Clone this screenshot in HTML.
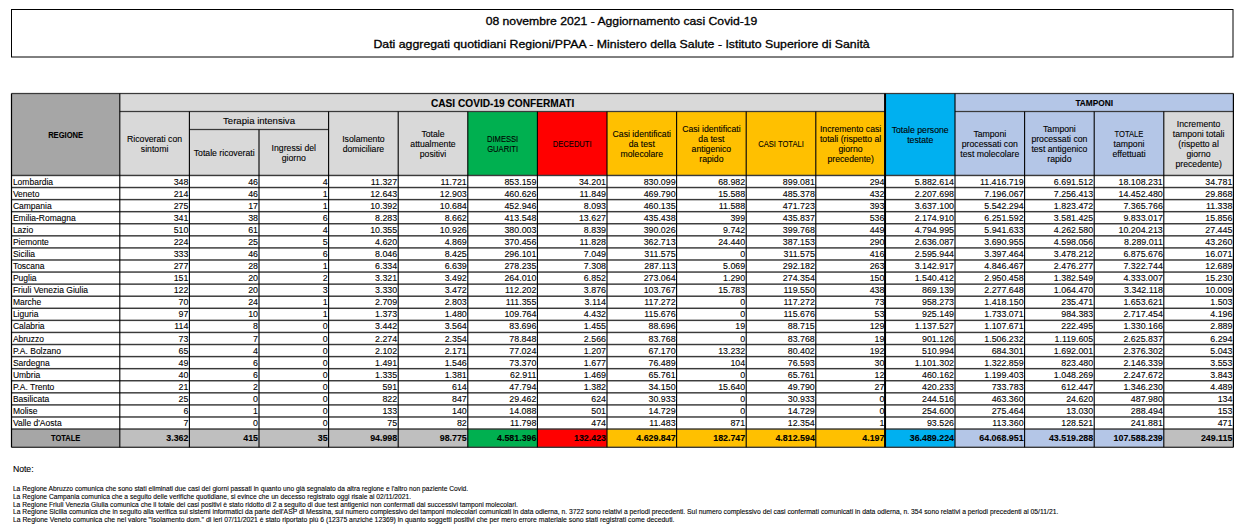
<!DOCTYPE html>
<html><head><meta charset="utf-8"><title>Covid-19 08/11/2021</title>
<style>
html,body{margin:0;padding:0;background:#fff;width:1247px;height:531px;overflow:hidden}
svg{display:block;font-family:"Liberation Sans",sans-serif}
text{stroke:#000;stroke-width:0.1px}
</style></head><body>
<svg width="1247" height="531" viewBox="0 0 1247 531">
<rect x="11.5" y="9.5" width="1221.50" height="47.5" fill="none" stroke="#000" stroke-width="1"/>
<rect x="11.50" y="93.50" width="108.30" height="81.80" fill="#a6a6a6"/>
<rect x="119.80" y="93.50" width="765.60" height="18.00" fill="#d9d9d9"/>
<rect x="119.80" y="111.50" width="69.60" height="63.80" fill="#d9d9d9"/>
<rect x="189.40" y="111.50" width="69.60" height="63.80" fill="#d9d9d9"/>
<rect x="259.00" y="111.50" width="69.60" height="63.80" fill="#d9d9d9"/>
<rect x="328.60" y="111.50" width="69.60" height="63.80" fill="#d9d9d9"/>
<rect x="398.20" y="111.50" width="69.60" height="63.80" fill="#d9d9d9"/>
<rect x="467.80" y="111.50" width="69.60" height="63.80" fill="#00b050"/>
<rect x="537.40" y="111.50" width="69.60" height="63.80" fill="#ff0000"/>
<rect x="607.00" y="111.50" width="69.60" height="63.80" fill="#ffc000"/>
<rect x="676.60" y="111.50" width="69.60" height="63.80" fill="#ffc000"/>
<rect x="746.20" y="111.50" width="69.60" height="63.80" fill="#ffc000"/>
<rect x="815.80" y="111.50" width="69.60" height="63.80" fill="#ffc000"/>
<rect x="885.40" y="93.50" width="69.60" height="81.80" fill="#00b0f0"/>
<rect x="955.00" y="93.50" width="278.40" height="18.00" fill="#b4c6e7"/>
<rect x="955.00" y="111.50" width="69.60" height="63.80" fill="#b4c6e7"/>
<rect x="1024.60" y="111.50" width="69.60" height="63.80" fill="#b4c6e7"/>
<rect x="1094.20" y="111.50" width="69.60" height="63.80" fill="#b4c6e7"/>
<rect x="1163.80" y="111.50" width="69.60" height="63.80" fill="#d9d9d9"/>
<rect x="11.50" y="428.90" width="108.30" height="18.40" fill="#a6a6a6"/>
<rect x="119.80" y="428.90" width="69.60" height="18.40" fill="#bfbfbf"/>
<rect x="189.40" y="428.90" width="69.60" height="18.40" fill="#bfbfbf"/>
<rect x="259.00" y="428.90" width="69.60" height="18.40" fill="#bfbfbf"/>
<rect x="328.60" y="428.90" width="69.60" height="18.40" fill="#bfbfbf"/>
<rect x="398.20" y="428.90" width="69.60" height="18.40" fill="#bfbfbf"/>
<rect x="467.80" y="428.90" width="69.60" height="18.40" fill="#00b050"/>
<rect x="537.40" y="428.90" width="69.60" height="18.40" fill="#ff0000"/>
<rect x="607.00" y="428.90" width="69.60" height="18.40" fill="#ffc000"/>
<rect x="676.60" y="428.90" width="69.60" height="18.40" fill="#ffc000"/>
<rect x="746.20" y="428.90" width="69.60" height="18.40" fill="#ffc000"/>
<rect x="815.80" y="428.90" width="69.60" height="18.40" fill="#ffc000"/>
<rect x="885.40" y="428.90" width="69.60" height="18.40" fill="#00b0f0"/>
<rect x="955.00" y="428.90" width="69.60" height="18.40" fill="#b4c6e7"/>
<rect x="1024.60" y="428.90" width="69.60" height="18.40" fill="#b4c6e7"/>
<rect x="1094.20" y="428.90" width="69.60" height="18.40" fill="#b4c6e7"/>
<rect x="1163.80" y="428.90" width="69.60" height="18.40" fill="#bfbfbf"/>
<rect x="11.50" y="92.88" width="1221.90" height="1.25" fill="#3a3a3a"/>
<rect x="119.80" y="110.88" width="765.60" height="1.25" fill="#3a3a3a"/>
<rect x="955.00" y="110.88" width="278.40" height="1.25" fill="#3a3a3a"/>
<rect x="189.40" y="128.88" width="139.20" height="1.25" fill="#3a3a3a"/>
<rect x="11.50" y="174.73" width="1221.90" height="1.45" fill="#3a3a3a"/>
<rect x="11.50" y="186.80" width="1221.90" height="1.45" fill="#3a3a3a"/>
<rect x="11.50" y="198.88" width="1221.90" height="1.45" fill="#3a3a3a"/>
<rect x="11.50" y="210.95" width="1221.90" height="1.45" fill="#3a3a3a"/>
<rect x="11.50" y="223.03" width="1221.90" height="1.45" fill="#3a3a3a"/>
<rect x="11.50" y="235.11" width="1221.90" height="1.45" fill="#3a3a3a"/>
<rect x="11.50" y="247.18" width="1221.90" height="1.45" fill="#3a3a3a"/>
<rect x="11.50" y="259.26" width="1221.90" height="1.45" fill="#3a3a3a"/>
<rect x="11.50" y="271.33" width="1221.90" height="1.45" fill="#3a3a3a"/>
<rect x="11.50" y="283.41" width="1221.90" height="1.45" fill="#3a3a3a"/>
<rect x="11.50" y="295.49" width="1221.90" height="1.45" fill="#3a3a3a"/>
<rect x="11.50" y="307.56" width="1221.90" height="1.45" fill="#3a3a3a"/>
<rect x="11.50" y="319.64" width="1221.90" height="1.45" fill="#3a3a3a"/>
<rect x="11.50" y="331.72" width="1221.90" height="1.45" fill="#3a3a3a"/>
<rect x="11.50" y="343.79" width="1221.90" height="1.45" fill="#3a3a3a"/>
<rect x="11.50" y="355.87" width="1221.90" height="1.45" fill="#3a3a3a"/>
<rect x="11.50" y="367.94" width="1221.90" height="1.45" fill="#3a3a3a"/>
<rect x="11.50" y="380.02" width="1221.90" height="1.45" fill="#3a3a3a"/>
<rect x="11.50" y="392.10" width="1221.90" height="1.45" fill="#3a3a3a"/>
<rect x="11.50" y="404.17" width="1221.90" height="1.45" fill="#3a3a3a"/>
<rect x="11.50" y="416.25" width="1221.90" height="1.45" fill="#3a3a3a"/>
<rect x="11.50" y="428.32" width="1221.90" height="1.45" fill="#3a3a3a"/>
<rect x="11.50" y="446.60" width="1221.90" height="1.40" fill="#3a3a3a"/>
<rect x="10.90" y="93.50" width="1.20" height="353.80" fill="#000"/>
<rect x="1232.80" y="93.50" width="1.20" height="353.80" fill="#000"/>
<rect x="119.25" y="93.50" width="1.10" height="353.80" fill="#000"/>
<rect x="188.85" y="111.50" width="1.10" height="335.80" fill="#000"/>
<rect x="258.45" y="129.50" width="1.10" height="317.80" fill="#000"/>
<rect x="328.05" y="111.50" width="1.10" height="335.80" fill="#000"/>
<rect x="397.65" y="111.50" width="1.10" height="335.80" fill="#000"/>
<rect x="467.25" y="111.50" width="1.10" height="335.80" fill="#000"/>
<rect x="536.85" y="111.50" width="1.10" height="335.80" fill="#000"/>
<rect x="606.45" y="111.50" width="1.10" height="335.80" fill="#000"/>
<rect x="676.05" y="111.50" width="1.10" height="335.80" fill="#000"/>
<rect x="745.65" y="111.50" width="1.10" height="335.80" fill="#000"/>
<rect x="815.25" y="111.50" width="1.10" height="335.80" fill="#000"/>
<rect x="884.05" y="93.50" width="2.00" height="353.80" fill="#000"/>
<rect x="954.45" y="93.50" width="1.10" height="353.80" fill="#000"/>
<rect x="1024.05" y="111.50" width="1.10" height="335.80" fill="#000"/>
<rect x="1093.65" y="111.50" width="1.10" height="335.80" fill="#000"/>
<rect x="1163.25" y="111.50" width="1.10" height="335.80" fill="#000"/>
<text x="621.50" y="25.00" text-anchor="middle" style="font-size:11.00px;stroke-width:0.3px;" fill="#000" textLength="271.70" lengthAdjust="spacingAndGlyphs">08 novembre 2021 - Aggiornamento casi Covid-19</text>
<text x="621.60" y="48.40" text-anchor="middle" style="font-size:11.00px;stroke-width:0.3px;" fill="#000" textLength="496.20" lengthAdjust="spacingAndGlyphs">Dati aggregati quotidiani Regioni/PPAA - Ministero della Salute - Istituto Superiore di Sanità</text>
<text x="65.65" y="138.00" text-anchor="middle" style="font-size:8.80px;font-weight:bold;" fill="#000" textLength="35.00" lengthAdjust="spacingAndGlyphs">REGIONE</text>
<text x="502.60" y="107.00" text-anchor="middle" style="font-size:10.30px;font-weight:bold;" fill="#000" textLength="143.20" lengthAdjust="spacingAndGlyphs">CASI COVID-19 CONFERMATI</text>
<text x="154.60" y="142.00" text-anchor="middle" style="font-size:8.70px;" fill="#000">Ricoverati con</text>
<text x="154.60" y="152.00" text-anchor="middle" style="font-size:8.70px;" fill="#000">sintomi</text>
<text x="259.00" y="124.00" text-anchor="middle" style="font-size:9.60px;" fill="#000">Terapia intensiva</text>
<text x="224.20" y="156.00" text-anchor="middle" style="font-size:8.70px;" fill="#000">Totale ricoverati</text>
<text x="293.80" y="151.00" text-anchor="middle" style="font-size:8.70px;" fill="#000">Ingressi del</text>
<text x="293.80" y="161.00" text-anchor="middle" style="font-size:8.70px;" fill="#000">giorno</text>
<text x="363.40" y="142.00" text-anchor="middle" style="font-size:8.70px;" fill="#000">Isolamento</text>
<text x="363.40" y="152.00" text-anchor="middle" style="font-size:8.70px;" fill="#000">domiciliare</text>
<text x="433.00" y="137.00" text-anchor="middle" style="font-size:8.70px;" fill="#000">Totale</text>
<text x="433.00" y="147.00" text-anchor="middle" style="font-size:8.70px;" fill="#000">attualmente</text>
<text x="433.00" y="157.00" text-anchor="middle" style="font-size:8.70px;" fill="#000">positivi</text>
<text x="502.60" y="142.00" text-anchor="middle" style="font-size:8.70px;" fill="#000" textLength="31.25" lengthAdjust="spacingAndGlyphs">DIMESSI</text>
<text x="502.60" y="152.00" text-anchor="middle" style="font-size:8.70px;" fill="#000" textLength="30.82" lengthAdjust="spacingAndGlyphs">GUARITI</text>
<text x="572.20" y="147.00" text-anchor="middle" style="font-size:8.70px;" fill="#000" textLength="38.85" lengthAdjust="spacingAndGlyphs">DECEDUTI</text>
<text x="641.80" y="137.00" text-anchor="middle" style="font-size:8.70px;" fill="#000">Casi identificati</text>
<text x="641.80" y="147.00" text-anchor="middle" style="font-size:8.70px;" fill="#000">da test</text>
<text x="641.80" y="157.00" text-anchor="middle" style="font-size:8.70px;" fill="#000">molecolare</text>
<text x="711.40" y="132.00" text-anchor="middle" style="font-size:8.70px;" fill="#000">Casi identificati</text>
<text x="711.40" y="142.00" text-anchor="middle" style="font-size:8.70px;" fill="#000">da test</text>
<text x="711.40" y="152.00" text-anchor="middle" style="font-size:8.70px;" fill="#000">antigenico</text>
<text x="711.40" y="162.00" text-anchor="middle" style="font-size:8.70px;" fill="#000">rapido</text>
<text x="781.00" y="147.00" text-anchor="middle" style="font-size:8.70px;" fill="#000" textLength="45.61" lengthAdjust="spacingAndGlyphs">CASI TOTALI</text>
<text x="850.60" y="132.00" text-anchor="middle" style="font-size:8.70px;" fill="#000">Incremento casi</text>
<text x="850.60" y="142.00" text-anchor="middle" style="font-size:8.70px;" fill="#000">totali (rispetto al</text>
<text x="850.60" y="152.00" text-anchor="middle" style="font-size:8.70px;" fill="#000">giorno</text>
<text x="850.60" y="162.00" text-anchor="middle" style="font-size:8.70px;" fill="#000">precedente)</text>
<text x="920.20" y="133.00" text-anchor="middle" style="font-size:8.70px;" fill="#000">Totale persone</text>
<text x="920.20" y="143.00" text-anchor="middle" style="font-size:8.70px;" fill="#000">testate</text>
<text x="1094.20" y="106.00" text-anchor="middle" style="font-size:8.30px;font-weight:bold;" fill="#000">TAMPONI</text>
<text x="989.80" y="137.00" text-anchor="middle" style="font-size:8.70px;" fill="#000">Tamponi</text>
<text x="989.80" y="147.00" text-anchor="middle" style="font-size:8.70px;" fill="#000">processati con</text>
<text x="989.80" y="157.00" text-anchor="middle" style="font-size:8.70px;" fill="#000">test molecolare</text>
<text x="1059.40" y="132.00" text-anchor="middle" style="font-size:8.70px;" fill="#000">Tamponi</text>
<text x="1059.40" y="142.00" text-anchor="middle" style="font-size:8.70px;" fill="#000">processati con</text>
<text x="1059.40" y="152.00" text-anchor="middle" style="font-size:8.70px;" fill="#000">test antigenico</text>
<text x="1059.40" y="162.00" text-anchor="middle" style="font-size:8.70px;" fill="#000">rapido</text>
<text x="1129.00" y="137.00" text-anchor="middle" style="font-size:8.70px;" fill="#000" textLength="28.86" lengthAdjust="spacingAndGlyphs">TOTALE</text>
<text x="1129.00" y="147.00" text-anchor="middle" style="font-size:8.70px;" fill="#000">tamponi</text>
<text x="1129.00" y="157.00" text-anchor="middle" style="font-size:8.70px;" fill="#000">effettuati</text>
<text x="1198.60" y="127.00" text-anchor="middle" style="font-size:8.70px;" fill="#000">Incremento</text>
<text x="1198.60" y="137.00" text-anchor="middle" style="font-size:8.70px;" fill="#000">tamponi totali</text>
<text x="1198.60" y="147.00" text-anchor="middle" style="font-size:8.70px;" fill="#000">(rispetto al</text>
<text x="1198.60" y="157.00" text-anchor="middle" style="font-size:8.70px;" fill="#000">giorno</text>
<text x="1198.60" y="167.00" text-anchor="middle" style="font-size:8.70px;" fill="#000">precedente)</text>
<text x="12.90" y="185.00" text-anchor="start" style="font-size:8.50px;" fill="#000">Lombardia</text>
<text x="188.40" y="185.00" text-anchor="end" style="font-size:8.85px;" fill="#000">348</text>
<text x="258.00" y="185.00" text-anchor="end" style="font-size:8.85px;" fill="#000">46</text>
<text x="327.60" y="185.00" text-anchor="end" style="font-size:8.85px;" fill="#000">4</text>
<text x="397.20" y="185.00" text-anchor="end" style="font-size:8.85px;" fill="#000">11.327</text>
<text x="466.80" y="185.00" text-anchor="end" style="font-size:8.85px;" fill="#000">11.721</text>
<text x="536.40" y="185.00" text-anchor="end" style="font-size:8.85px;" fill="#000">853.159</text>
<text x="606.00" y="185.00" text-anchor="end" style="font-size:8.85px;" fill="#000">34.201</text>
<text x="675.60" y="185.00" text-anchor="end" style="font-size:8.85px;" fill="#000">830.099</text>
<text x="745.20" y="185.00" text-anchor="end" style="font-size:8.85px;" fill="#000">68.982</text>
<text x="814.80" y="185.00" text-anchor="end" style="font-size:8.85px;" fill="#000">899.081</text>
<text x="884.40" y="185.00" text-anchor="end" style="font-size:8.85px;" fill="#000">294</text>
<text x="954.00" y="185.00" text-anchor="end" style="font-size:8.85px;" fill="#000">5.882.614</text>
<text x="1023.60" y="185.00" text-anchor="end" style="font-size:8.85px;" fill="#000">11.416.719</text>
<text x="1093.20" y="185.00" text-anchor="end" style="font-size:8.85px;" fill="#000">6.691.512</text>
<text x="1162.80" y="185.00" text-anchor="end" style="font-size:8.85px;" fill="#000">18.108.231</text>
<text x="1232.40" y="185.00" text-anchor="end" style="font-size:8.85px;" fill="#000">34.781</text>
<text x="12.90" y="197.00" text-anchor="start" style="font-size:8.50px;" fill="#000">Veneto</text>
<text x="188.40" y="197.00" text-anchor="end" style="font-size:8.85px;" fill="#000">214</text>
<text x="258.00" y="197.00" text-anchor="end" style="font-size:8.85px;" fill="#000">46</text>
<text x="327.60" y="197.00" text-anchor="end" style="font-size:8.85px;" fill="#000">1</text>
<text x="397.20" y="197.00" text-anchor="end" style="font-size:8.85px;" fill="#000">12.643</text>
<text x="466.80" y="197.00" text-anchor="end" style="font-size:8.85px;" fill="#000">12.903</text>
<text x="536.40" y="197.00" text-anchor="end" style="font-size:8.85px;" fill="#000">460.626</text>
<text x="606.00" y="197.00" text-anchor="end" style="font-size:8.85px;" fill="#000">11.849</text>
<text x="675.60" y="197.00" text-anchor="end" style="font-size:8.85px;" fill="#000">469.790</text>
<text x="745.20" y="197.00" text-anchor="end" style="font-size:8.85px;" fill="#000">15.588</text>
<text x="814.80" y="197.00" text-anchor="end" style="font-size:8.85px;" fill="#000">485.378</text>
<text x="884.40" y="197.00" text-anchor="end" style="font-size:8.85px;" fill="#000">432</text>
<text x="954.00" y="197.00" text-anchor="end" style="font-size:8.85px;" fill="#000">2.207.698</text>
<text x="1023.60" y="197.00" text-anchor="end" style="font-size:8.85px;" fill="#000">7.196.067</text>
<text x="1093.20" y="197.00" text-anchor="end" style="font-size:8.85px;" fill="#000">7.256.413</text>
<text x="1162.80" y="197.00" text-anchor="end" style="font-size:8.85px;" fill="#000">14.452.480</text>
<text x="1232.40" y="197.00" text-anchor="end" style="font-size:8.85px;" fill="#000">29.868</text>
<text x="12.90" y="209.00" text-anchor="start" style="font-size:8.50px;" fill="#000">Campania</text>
<text x="188.40" y="209.00" text-anchor="end" style="font-size:8.85px;" fill="#000">275</text>
<text x="258.00" y="209.00" text-anchor="end" style="font-size:8.85px;" fill="#000">17</text>
<text x="327.60" y="209.00" text-anchor="end" style="font-size:8.85px;" fill="#000">1</text>
<text x="397.20" y="209.00" text-anchor="end" style="font-size:8.85px;" fill="#000">10.392</text>
<text x="466.80" y="209.00" text-anchor="end" style="font-size:8.85px;" fill="#000">10.684</text>
<text x="536.40" y="209.00" text-anchor="end" style="font-size:8.85px;" fill="#000">452.946</text>
<text x="606.00" y="209.00" text-anchor="end" style="font-size:8.85px;" fill="#000">8.093</text>
<text x="675.60" y="209.00" text-anchor="end" style="font-size:8.85px;" fill="#000">460.135</text>
<text x="745.20" y="209.00" text-anchor="end" style="font-size:8.85px;" fill="#000">11.588</text>
<text x="814.80" y="209.00" text-anchor="end" style="font-size:8.85px;" fill="#000">471.723</text>
<text x="884.40" y="209.00" text-anchor="end" style="font-size:8.85px;" fill="#000">393</text>
<text x="954.00" y="209.00" text-anchor="end" style="font-size:8.85px;" fill="#000">3.637.100</text>
<text x="1023.60" y="209.00" text-anchor="end" style="font-size:8.85px;" fill="#000">5.542.294</text>
<text x="1093.20" y="209.00" text-anchor="end" style="font-size:8.85px;" fill="#000">1.823.472</text>
<text x="1162.80" y="209.00" text-anchor="end" style="font-size:8.85px;" fill="#000">7.365.766</text>
<text x="1232.40" y="209.00" text-anchor="end" style="font-size:8.85px;" fill="#000">11.338</text>
<text x="12.90" y="221.00" text-anchor="start" style="font-size:8.50px;" fill="#000">Emilia-Romagna</text>
<text x="188.40" y="221.00" text-anchor="end" style="font-size:8.85px;" fill="#000">341</text>
<text x="258.00" y="221.00" text-anchor="end" style="font-size:8.85px;" fill="#000">38</text>
<text x="327.60" y="221.00" text-anchor="end" style="font-size:8.85px;" fill="#000">6</text>
<text x="397.20" y="221.00" text-anchor="end" style="font-size:8.85px;" fill="#000">8.283</text>
<text x="466.80" y="221.00" text-anchor="end" style="font-size:8.85px;" fill="#000">8.662</text>
<text x="536.40" y="221.00" text-anchor="end" style="font-size:8.85px;" fill="#000">413.548</text>
<text x="606.00" y="221.00" text-anchor="end" style="font-size:8.85px;" fill="#000">13.627</text>
<text x="675.60" y="221.00" text-anchor="end" style="font-size:8.85px;" fill="#000">435.438</text>
<text x="745.20" y="221.00" text-anchor="end" style="font-size:8.85px;" fill="#000">399</text>
<text x="814.80" y="221.00" text-anchor="end" style="font-size:8.85px;" fill="#000">435.837</text>
<text x="884.40" y="221.00" text-anchor="end" style="font-size:8.85px;" fill="#000">536</text>
<text x="954.00" y="221.00" text-anchor="end" style="font-size:8.85px;" fill="#000">2.174.910</text>
<text x="1023.60" y="221.00" text-anchor="end" style="font-size:8.85px;" fill="#000">6.251.592</text>
<text x="1093.20" y="221.00" text-anchor="end" style="font-size:8.85px;" fill="#000">3.581.425</text>
<text x="1162.80" y="221.00" text-anchor="end" style="font-size:8.85px;" fill="#000">9.833.017</text>
<text x="1232.40" y="221.00" text-anchor="end" style="font-size:8.85px;" fill="#000">15.856</text>
<text x="12.90" y="233.00" text-anchor="start" style="font-size:8.50px;" fill="#000">Lazio</text>
<text x="188.40" y="233.00" text-anchor="end" style="font-size:8.85px;" fill="#000">510</text>
<text x="258.00" y="233.00" text-anchor="end" style="font-size:8.85px;" fill="#000">61</text>
<text x="327.60" y="233.00" text-anchor="end" style="font-size:8.85px;" fill="#000">4</text>
<text x="397.20" y="233.00" text-anchor="end" style="font-size:8.85px;" fill="#000">10.355</text>
<text x="466.80" y="233.00" text-anchor="end" style="font-size:8.85px;" fill="#000">10.926</text>
<text x="536.40" y="233.00" text-anchor="end" style="font-size:8.85px;" fill="#000">380.003</text>
<text x="606.00" y="233.00" text-anchor="end" style="font-size:8.85px;" fill="#000">8.839</text>
<text x="675.60" y="233.00" text-anchor="end" style="font-size:8.85px;" fill="#000">390.026</text>
<text x="745.20" y="233.00" text-anchor="end" style="font-size:8.85px;" fill="#000">9.742</text>
<text x="814.80" y="233.00" text-anchor="end" style="font-size:8.85px;" fill="#000">399.768</text>
<text x="884.40" y="233.00" text-anchor="end" style="font-size:8.85px;" fill="#000">449</text>
<text x="954.00" y="233.00" text-anchor="end" style="font-size:8.85px;" fill="#000">4.794.995</text>
<text x="1023.60" y="233.00" text-anchor="end" style="font-size:8.85px;" fill="#000">5.941.633</text>
<text x="1093.20" y="233.00" text-anchor="end" style="font-size:8.85px;" fill="#000">4.262.580</text>
<text x="1162.80" y="233.00" text-anchor="end" style="font-size:8.85px;" fill="#000">10.204.213</text>
<text x="1232.40" y="233.00" text-anchor="end" style="font-size:8.85px;" fill="#000">27.445</text>
<text x="12.90" y="245.00" text-anchor="start" style="font-size:8.50px;" fill="#000">Piemonte</text>
<text x="188.40" y="245.00" text-anchor="end" style="font-size:8.85px;" fill="#000">224</text>
<text x="258.00" y="245.00" text-anchor="end" style="font-size:8.85px;" fill="#000">25</text>
<text x="327.60" y="245.00" text-anchor="end" style="font-size:8.85px;" fill="#000">5</text>
<text x="397.20" y="245.00" text-anchor="end" style="font-size:8.85px;" fill="#000">4.620</text>
<text x="466.80" y="245.00" text-anchor="end" style="font-size:8.85px;" fill="#000">4.869</text>
<text x="536.40" y="245.00" text-anchor="end" style="font-size:8.85px;" fill="#000">370.456</text>
<text x="606.00" y="245.00" text-anchor="end" style="font-size:8.85px;" fill="#000">11.828</text>
<text x="675.60" y="245.00" text-anchor="end" style="font-size:8.85px;" fill="#000">362.713</text>
<text x="745.20" y="245.00" text-anchor="end" style="font-size:8.85px;" fill="#000">24.440</text>
<text x="814.80" y="245.00" text-anchor="end" style="font-size:8.85px;" fill="#000">387.153</text>
<text x="884.40" y="245.00" text-anchor="end" style="font-size:8.85px;" fill="#000">290</text>
<text x="954.00" y="245.00" text-anchor="end" style="font-size:8.85px;" fill="#000">2.636.087</text>
<text x="1023.60" y="245.00" text-anchor="end" style="font-size:8.85px;" fill="#000">3.690.955</text>
<text x="1093.20" y="245.00" text-anchor="end" style="font-size:8.85px;" fill="#000">4.598.056</text>
<text x="1162.80" y="245.00" text-anchor="end" style="font-size:8.85px;" fill="#000">8.289.011</text>
<text x="1232.40" y="245.00" text-anchor="end" style="font-size:8.85px;" fill="#000">43.260</text>
<text x="12.90" y="257.00" text-anchor="start" style="font-size:8.50px;" fill="#000">Sicilia</text>
<text x="188.40" y="257.00" text-anchor="end" style="font-size:8.85px;" fill="#000">333</text>
<text x="258.00" y="257.00" text-anchor="end" style="font-size:8.85px;" fill="#000">46</text>
<text x="327.60" y="257.00" text-anchor="end" style="font-size:8.85px;" fill="#000">6</text>
<text x="397.20" y="257.00" text-anchor="end" style="font-size:8.85px;" fill="#000">8.046</text>
<text x="466.80" y="257.00" text-anchor="end" style="font-size:8.85px;" fill="#000">8.425</text>
<text x="536.40" y="257.00" text-anchor="end" style="font-size:8.85px;" fill="#000">296.101</text>
<text x="606.00" y="257.00" text-anchor="end" style="font-size:8.85px;" fill="#000">7.049</text>
<text x="675.60" y="257.00" text-anchor="end" style="font-size:8.85px;" fill="#000">311.575</text>
<text x="745.20" y="257.00" text-anchor="end" style="font-size:8.85px;" fill="#000">0</text>
<text x="814.80" y="257.00" text-anchor="end" style="font-size:8.85px;" fill="#000">311.575</text>
<text x="884.40" y="257.00" text-anchor="end" style="font-size:8.85px;" fill="#000">416</text>
<text x="954.00" y="257.00" text-anchor="end" style="font-size:8.85px;" fill="#000">2.595.944</text>
<text x="1023.60" y="257.00" text-anchor="end" style="font-size:8.85px;" fill="#000">3.397.464</text>
<text x="1093.20" y="257.00" text-anchor="end" style="font-size:8.85px;" fill="#000">3.478.212</text>
<text x="1162.80" y="257.00" text-anchor="end" style="font-size:8.85px;" fill="#000">6.875.676</text>
<text x="1232.40" y="257.00" text-anchor="end" style="font-size:8.85px;" fill="#000">16.071</text>
<text x="12.90" y="269.00" text-anchor="start" style="font-size:8.50px;" fill="#000">Toscana</text>
<text x="188.40" y="269.00" text-anchor="end" style="font-size:8.85px;" fill="#000">277</text>
<text x="258.00" y="269.00" text-anchor="end" style="font-size:8.85px;" fill="#000">28</text>
<text x="327.60" y="269.00" text-anchor="end" style="font-size:8.85px;" fill="#000">1</text>
<text x="397.20" y="269.00" text-anchor="end" style="font-size:8.85px;" fill="#000">6.334</text>
<text x="466.80" y="269.00" text-anchor="end" style="font-size:8.85px;" fill="#000">6.639</text>
<text x="536.40" y="269.00" text-anchor="end" style="font-size:8.85px;" fill="#000">278.235</text>
<text x="606.00" y="269.00" text-anchor="end" style="font-size:8.85px;" fill="#000">7.308</text>
<text x="675.60" y="269.00" text-anchor="end" style="font-size:8.85px;" fill="#000">287.113</text>
<text x="745.20" y="269.00" text-anchor="end" style="font-size:8.85px;" fill="#000">5.069</text>
<text x="814.80" y="269.00" text-anchor="end" style="font-size:8.85px;" fill="#000">292.182</text>
<text x="884.40" y="269.00" text-anchor="end" style="font-size:8.85px;" fill="#000">263</text>
<text x="954.00" y="269.00" text-anchor="end" style="font-size:8.85px;" fill="#000">3.142.917</text>
<text x="1023.60" y="269.00" text-anchor="end" style="font-size:8.85px;" fill="#000">4.846.467</text>
<text x="1093.20" y="269.00" text-anchor="end" style="font-size:8.85px;" fill="#000">2.476.277</text>
<text x="1162.80" y="269.00" text-anchor="end" style="font-size:8.85px;" fill="#000">7.322.744</text>
<text x="1232.40" y="269.00" text-anchor="end" style="font-size:8.85px;" fill="#000">12.689</text>
<text x="12.90" y="281.00" text-anchor="start" style="font-size:8.50px;" fill="#000">Puglia</text>
<text x="188.40" y="281.00" text-anchor="end" style="font-size:8.85px;" fill="#000">151</text>
<text x="258.00" y="281.00" text-anchor="end" style="font-size:8.85px;" fill="#000">20</text>
<text x="327.60" y="281.00" text-anchor="end" style="font-size:8.85px;" fill="#000">2</text>
<text x="397.20" y="281.00" text-anchor="end" style="font-size:8.85px;" fill="#000">3.321</text>
<text x="466.80" y="281.00" text-anchor="end" style="font-size:8.85px;" fill="#000">3.492</text>
<text x="536.40" y="281.00" text-anchor="end" style="font-size:8.85px;" fill="#000">264.010</text>
<text x="606.00" y="281.00" text-anchor="end" style="font-size:8.85px;" fill="#000">6.852</text>
<text x="675.60" y="281.00" text-anchor="end" style="font-size:8.85px;" fill="#000">273.064</text>
<text x="745.20" y="281.00" text-anchor="end" style="font-size:8.85px;" fill="#000">1.290</text>
<text x="814.80" y="281.00" text-anchor="end" style="font-size:8.85px;" fill="#000">274.354</text>
<text x="884.40" y="281.00" text-anchor="end" style="font-size:8.85px;" fill="#000">150</text>
<text x="954.00" y="281.00" text-anchor="end" style="font-size:8.85px;" fill="#000">1.540.412</text>
<text x="1023.60" y="281.00" text-anchor="end" style="font-size:8.85px;" fill="#000">2.950.458</text>
<text x="1093.20" y="281.00" text-anchor="end" style="font-size:8.85px;" fill="#000">1.382.549</text>
<text x="1162.80" y="281.00" text-anchor="end" style="font-size:8.85px;" fill="#000">4.333.007</text>
<text x="1232.40" y="281.00" text-anchor="end" style="font-size:8.85px;" fill="#000">15.230</text>
<text x="12.90" y="293.00" text-anchor="start" style="font-size:8.50px;" fill="#000">Friuli Venezia Giulia</text>
<text x="188.40" y="293.00" text-anchor="end" style="font-size:8.85px;" fill="#000">122</text>
<text x="258.00" y="293.00" text-anchor="end" style="font-size:8.85px;" fill="#000">20</text>
<text x="327.60" y="293.00" text-anchor="end" style="font-size:8.85px;" fill="#000">3</text>
<text x="397.20" y="293.00" text-anchor="end" style="font-size:8.85px;" fill="#000">3.330</text>
<text x="466.80" y="293.00" text-anchor="end" style="font-size:8.85px;" fill="#000">3.472</text>
<text x="536.40" y="293.00" text-anchor="end" style="font-size:8.85px;" fill="#000">112.202</text>
<text x="606.00" y="293.00" text-anchor="end" style="font-size:8.85px;" fill="#000">3.876</text>
<text x="675.60" y="293.00" text-anchor="end" style="font-size:8.85px;" fill="#000">103.767</text>
<text x="745.20" y="293.00" text-anchor="end" style="font-size:8.85px;" fill="#000">15.783</text>
<text x="814.80" y="293.00" text-anchor="end" style="font-size:8.85px;" fill="#000">119.550</text>
<text x="884.40" y="293.00" text-anchor="end" style="font-size:8.85px;" fill="#000">438</text>
<text x="954.00" y="293.00" text-anchor="end" style="font-size:8.85px;" fill="#000">869.139</text>
<text x="1023.60" y="293.00" text-anchor="end" style="font-size:8.85px;" fill="#000">2.277.648</text>
<text x="1093.20" y="293.00" text-anchor="end" style="font-size:8.85px;" fill="#000">1.064.470</text>
<text x="1162.80" y="293.00" text-anchor="end" style="font-size:8.85px;" fill="#000">3.342.118</text>
<text x="1232.40" y="293.00" text-anchor="end" style="font-size:8.85px;" fill="#000">10.009</text>
<text x="12.90" y="305.00" text-anchor="start" style="font-size:8.50px;" fill="#000">Marche</text>
<text x="188.40" y="305.00" text-anchor="end" style="font-size:8.85px;" fill="#000">70</text>
<text x="258.00" y="305.00" text-anchor="end" style="font-size:8.85px;" fill="#000">24</text>
<text x="327.60" y="305.00" text-anchor="end" style="font-size:8.85px;" fill="#000">1</text>
<text x="397.20" y="305.00" text-anchor="end" style="font-size:8.85px;" fill="#000">2.709</text>
<text x="466.80" y="305.00" text-anchor="end" style="font-size:8.85px;" fill="#000">2.803</text>
<text x="536.40" y="305.00" text-anchor="end" style="font-size:8.85px;" fill="#000">111.355</text>
<text x="606.00" y="305.00" text-anchor="end" style="font-size:8.85px;" fill="#000">3.114</text>
<text x="675.60" y="305.00" text-anchor="end" style="font-size:8.85px;" fill="#000">117.272</text>
<text x="745.20" y="305.00" text-anchor="end" style="font-size:8.85px;" fill="#000">0</text>
<text x="814.80" y="305.00" text-anchor="end" style="font-size:8.85px;" fill="#000">117.272</text>
<text x="884.40" y="305.00" text-anchor="end" style="font-size:8.85px;" fill="#000">73</text>
<text x="954.00" y="305.00" text-anchor="end" style="font-size:8.85px;" fill="#000">958.273</text>
<text x="1023.60" y="305.00" text-anchor="end" style="font-size:8.85px;" fill="#000">1.418.150</text>
<text x="1093.20" y="305.00" text-anchor="end" style="font-size:8.85px;" fill="#000">235.471</text>
<text x="1162.80" y="305.00" text-anchor="end" style="font-size:8.85px;" fill="#000">1.653.621</text>
<text x="1232.40" y="305.00" text-anchor="end" style="font-size:8.85px;" fill="#000">1.503</text>
<text x="12.90" y="317.00" text-anchor="start" style="font-size:8.50px;" fill="#000">Liguria</text>
<text x="188.40" y="317.00" text-anchor="end" style="font-size:8.85px;" fill="#000">97</text>
<text x="258.00" y="317.00" text-anchor="end" style="font-size:8.85px;" fill="#000">10</text>
<text x="327.60" y="317.00" text-anchor="end" style="font-size:8.85px;" fill="#000">1</text>
<text x="397.20" y="317.00" text-anchor="end" style="font-size:8.85px;" fill="#000">1.373</text>
<text x="466.80" y="317.00" text-anchor="end" style="font-size:8.85px;" fill="#000">1.480</text>
<text x="536.40" y="317.00" text-anchor="end" style="font-size:8.85px;" fill="#000">109.764</text>
<text x="606.00" y="317.00" text-anchor="end" style="font-size:8.85px;" fill="#000">4.432</text>
<text x="675.60" y="317.00" text-anchor="end" style="font-size:8.85px;" fill="#000">115.676</text>
<text x="745.20" y="317.00" text-anchor="end" style="font-size:8.85px;" fill="#000">0</text>
<text x="814.80" y="317.00" text-anchor="end" style="font-size:8.85px;" fill="#000">115.676</text>
<text x="884.40" y="317.00" text-anchor="end" style="font-size:8.85px;" fill="#000">53</text>
<text x="954.00" y="317.00" text-anchor="end" style="font-size:8.85px;" fill="#000">925.149</text>
<text x="1023.60" y="317.00" text-anchor="end" style="font-size:8.85px;" fill="#000">1.733.071</text>
<text x="1093.20" y="317.00" text-anchor="end" style="font-size:8.85px;" fill="#000">984.383</text>
<text x="1162.80" y="317.00" text-anchor="end" style="font-size:8.85px;" fill="#000">2.717.454</text>
<text x="1232.40" y="317.00" text-anchor="end" style="font-size:8.85px;" fill="#000">4.196</text>
<text x="12.90" y="329.00" text-anchor="start" style="font-size:8.50px;" fill="#000">Calabria</text>
<text x="188.40" y="329.00" text-anchor="end" style="font-size:8.85px;" fill="#000">114</text>
<text x="258.00" y="329.00" text-anchor="end" style="font-size:8.85px;" fill="#000">8</text>
<text x="327.60" y="329.00" text-anchor="end" style="font-size:8.85px;" fill="#000">0</text>
<text x="397.20" y="329.00" text-anchor="end" style="font-size:8.85px;" fill="#000">3.442</text>
<text x="466.80" y="329.00" text-anchor="end" style="font-size:8.85px;" fill="#000">3.564</text>
<text x="536.40" y="329.00" text-anchor="end" style="font-size:8.85px;" fill="#000">83.696</text>
<text x="606.00" y="329.00" text-anchor="end" style="font-size:8.85px;" fill="#000">1.455</text>
<text x="675.60" y="329.00" text-anchor="end" style="font-size:8.85px;" fill="#000">88.696</text>
<text x="745.20" y="329.00" text-anchor="end" style="font-size:8.85px;" fill="#000">19</text>
<text x="814.80" y="329.00" text-anchor="end" style="font-size:8.85px;" fill="#000">88.715</text>
<text x="884.40" y="329.00" text-anchor="end" style="font-size:8.85px;" fill="#000">129</text>
<text x="954.00" y="329.00" text-anchor="end" style="font-size:8.85px;" fill="#000">1.137.527</text>
<text x="1023.60" y="329.00" text-anchor="end" style="font-size:8.85px;" fill="#000">1.107.671</text>
<text x="1093.20" y="329.00" text-anchor="end" style="font-size:8.85px;" fill="#000">222.495</text>
<text x="1162.80" y="329.00" text-anchor="end" style="font-size:8.85px;" fill="#000">1.330.166</text>
<text x="1232.40" y="329.00" text-anchor="end" style="font-size:8.85px;" fill="#000">2.889</text>
<text x="12.90" y="342.00" text-anchor="start" style="font-size:8.50px;" fill="#000">Abruzzo</text>
<text x="188.40" y="342.00" text-anchor="end" style="font-size:8.85px;" fill="#000">73</text>
<text x="258.00" y="342.00" text-anchor="end" style="font-size:8.85px;" fill="#000">7</text>
<text x="327.60" y="342.00" text-anchor="end" style="font-size:8.85px;" fill="#000">0</text>
<text x="397.20" y="342.00" text-anchor="end" style="font-size:8.85px;" fill="#000">2.274</text>
<text x="466.80" y="342.00" text-anchor="end" style="font-size:8.85px;" fill="#000">2.354</text>
<text x="536.40" y="342.00" text-anchor="end" style="font-size:8.85px;" fill="#000">78.848</text>
<text x="606.00" y="342.00" text-anchor="end" style="font-size:8.85px;" fill="#000">2.566</text>
<text x="675.60" y="342.00" text-anchor="end" style="font-size:8.85px;" fill="#000">83.768</text>
<text x="745.20" y="342.00" text-anchor="end" style="font-size:8.85px;" fill="#000">0</text>
<text x="814.80" y="342.00" text-anchor="end" style="font-size:8.85px;" fill="#000">83.768</text>
<text x="884.40" y="342.00" text-anchor="end" style="font-size:8.85px;" fill="#000">19</text>
<text x="954.00" y="342.00" text-anchor="end" style="font-size:8.85px;" fill="#000">901.126</text>
<text x="1023.60" y="342.00" text-anchor="end" style="font-size:8.85px;" fill="#000">1.506.232</text>
<text x="1093.20" y="342.00" text-anchor="end" style="font-size:8.85px;" fill="#000">1.119.605</text>
<text x="1162.80" y="342.00" text-anchor="end" style="font-size:8.85px;" fill="#000">2.625.837</text>
<text x="1232.40" y="342.00" text-anchor="end" style="font-size:8.85px;" fill="#000">6.294</text>
<text x="12.90" y="354.00" text-anchor="start" style="font-size:8.50px;" fill="#000">P.A. Bolzano</text>
<text x="188.40" y="354.00" text-anchor="end" style="font-size:8.85px;" fill="#000">65</text>
<text x="258.00" y="354.00" text-anchor="end" style="font-size:8.85px;" fill="#000">4</text>
<text x="327.60" y="354.00" text-anchor="end" style="font-size:8.85px;" fill="#000">0</text>
<text x="397.20" y="354.00" text-anchor="end" style="font-size:8.85px;" fill="#000">2.102</text>
<text x="466.80" y="354.00" text-anchor="end" style="font-size:8.85px;" fill="#000">2.171</text>
<text x="536.40" y="354.00" text-anchor="end" style="font-size:8.85px;" fill="#000">77.024</text>
<text x="606.00" y="354.00" text-anchor="end" style="font-size:8.85px;" fill="#000">1.207</text>
<text x="675.60" y="354.00" text-anchor="end" style="font-size:8.85px;" fill="#000">67.170</text>
<text x="745.20" y="354.00" text-anchor="end" style="font-size:8.85px;" fill="#000">13.232</text>
<text x="814.80" y="354.00" text-anchor="end" style="font-size:8.85px;" fill="#000">80.402</text>
<text x="884.40" y="354.00" text-anchor="end" style="font-size:8.85px;" fill="#000">192</text>
<text x="954.00" y="354.00" text-anchor="end" style="font-size:8.85px;" fill="#000">510.994</text>
<text x="1023.60" y="354.00" text-anchor="end" style="font-size:8.85px;" fill="#000">684.301</text>
<text x="1093.20" y="354.00" text-anchor="end" style="font-size:8.85px;" fill="#000">1.692.001</text>
<text x="1162.80" y="354.00" text-anchor="end" style="font-size:8.85px;" fill="#000">2.376.302</text>
<text x="1232.40" y="354.00" text-anchor="end" style="font-size:8.85px;" fill="#000">5.043</text>
<text x="12.90" y="366.00" text-anchor="start" style="font-size:8.50px;" fill="#000">Sardegna</text>
<text x="188.40" y="366.00" text-anchor="end" style="font-size:8.85px;" fill="#000">49</text>
<text x="258.00" y="366.00" text-anchor="end" style="font-size:8.85px;" fill="#000">6</text>
<text x="327.60" y="366.00" text-anchor="end" style="font-size:8.85px;" fill="#000">0</text>
<text x="397.20" y="366.00" text-anchor="end" style="font-size:8.85px;" fill="#000">1.491</text>
<text x="466.80" y="366.00" text-anchor="end" style="font-size:8.85px;" fill="#000">1.546</text>
<text x="536.40" y="366.00" text-anchor="end" style="font-size:8.85px;" fill="#000">73.370</text>
<text x="606.00" y="366.00" text-anchor="end" style="font-size:8.85px;" fill="#000">1.677</text>
<text x="675.60" y="366.00" text-anchor="end" style="font-size:8.85px;" fill="#000">76.489</text>
<text x="745.20" y="366.00" text-anchor="end" style="font-size:8.85px;" fill="#000">104</text>
<text x="814.80" y="366.00" text-anchor="end" style="font-size:8.85px;" fill="#000">76.593</text>
<text x="884.40" y="366.00" text-anchor="end" style="font-size:8.85px;" fill="#000">30</text>
<text x="954.00" y="366.00" text-anchor="end" style="font-size:8.85px;" fill="#000">1.101.302</text>
<text x="1023.60" y="366.00" text-anchor="end" style="font-size:8.85px;" fill="#000">1.322.859</text>
<text x="1093.20" y="366.00" text-anchor="end" style="font-size:8.85px;" fill="#000">823.480</text>
<text x="1162.80" y="366.00" text-anchor="end" style="font-size:8.85px;" fill="#000">2.146.339</text>
<text x="1232.40" y="366.00" text-anchor="end" style="font-size:8.85px;" fill="#000">3.553</text>
<text x="12.90" y="378.00" text-anchor="start" style="font-size:8.50px;" fill="#000">Umbria</text>
<text x="188.40" y="378.00" text-anchor="end" style="font-size:8.85px;" fill="#000">40</text>
<text x="258.00" y="378.00" text-anchor="end" style="font-size:8.85px;" fill="#000">6</text>
<text x="327.60" y="378.00" text-anchor="end" style="font-size:8.85px;" fill="#000">0</text>
<text x="397.20" y="378.00" text-anchor="end" style="font-size:8.85px;" fill="#000">1.335</text>
<text x="466.80" y="378.00" text-anchor="end" style="font-size:8.85px;" fill="#000">1.381</text>
<text x="536.40" y="378.00" text-anchor="end" style="font-size:8.85px;" fill="#000">62.911</text>
<text x="606.00" y="378.00" text-anchor="end" style="font-size:8.85px;" fill="#000">1.469</text>
<text x="675.60" y="378.00" text-anchor="end" style="font-size:8.85px;" fill="#000">65.761</text>
<text x="745.20" y="378.00" text-anchor="end" style="font-size:8.85px;" fill="#000">0</text>
<text x="814.80" y="378.00" text-anchor="end" style="font-size:8.85px;" fill="#000">65.761</text>
<text x="884.40" y="378.00" text-anchor="end" style="font-size:8.85px;" fill="#000">12</text>
<text x="954.00" y="378.00" text-anchor="end" style="font-size:8.85px;" fill="#000">460.162</text>
<text x="1023.60" y="378.00" text-anchor="end" style="font-size:8.85px;" fill="#000">1.199.403</text>
<text x="1093.20" y="378.00" text-anchor="end" style="font-size:8.85px;" fill="#000">1.048.269</text>
<text x="1162.80" y="378.00" text-anchor="end" style="font-size:8.85px;" fill="#000">2.247.672</text>
<text x="1232.40" y="378.00" text-anchor="end" style="font-size:8.85px;" fill="#000">3.843</text>
<text x="12.90" y="390.00" text-anchor="start" style="font-size:8.50px;" fill="#000">P.A. Trento</text>
<text x="188.40" y="390.00" text-anchor="end" style="font-size:8.85px;" fill="#000">21</text>
<text x="258.00" y="390.00" text-anchor="end" style="font-size:8.85px;" fill="#000">2</text>
<text x="327.60" y="390.00" text-anchor="end" style="font-size:8.85px;" fill="#000">0</text>
<text x="397.20" y="390.00" text-anchor="end" style="font-size:8.85px;" fill="#000">591</text>
<text x="466.80" y="390.00" text-anchor="end" style="font-size:8.85px;" fill="#000">614</text>
<text x="536.40" y="390.00" text-anchor="end" style="font-size:8.85px;" fill="#000">47.794</text>
<text x="606.00" y="390.00" text-anchor="end" style="font-size:8.85px;" fill="#000">1.382</text>
<text x="675.60" y="390.00" text-anchor="end" style="font-size:8.85px;" fill="#000">34.150</text>
<text x="745.20" y="390.00" text-anchor="end" style="font-size:8.85px;" fill="#000">15.640</text>
<text x="814.80" y="390.00" text-anchor="end" style="font-size:8.85px;" fill="#000">49.790</text>
<text x="884.40" y="390.00" text-anchor="end" style="font-size:8.85px;" fill="#000">27</text>
<text x="954.00" y="390.00" text-anchor="end" style="font-size:8.85px;" fill="#000">420.233</text>
<text x="1023.60" y="390.00" text-anchor="end" style="font-size:8.85px;" fill="#000">733.783</text>
<text x="1093.20" y="390.00" text-anchor="end" style="font-size:8.85px;" fill="#000">612.447</text>
<text x="1162.80" y="390.00" text-anchor="end" style="font-size:8.85px;" fill="#000">1.346.230</text>
<text x="1232.40" y="390.00" text-anchor="end" style="font-size:8.85px;" fill="#000">4.489</text>
<text x="12.90" y="402.00" text-anchor="start" style="font-size:8.50px;" fill="#000">Basilicata</text>
<text x="188.40" y="402.00" text-anchor="end" style="font-size:8.85px;" fill="#000">25</text>
<text x="258.00" y="402.00" text-anchor="end" style="font-size:8.85px;" fill="#000">0</text>
<text x="327.60" y="402.00" text-anchor="end" style="font-size:8.85px;" fill="#000">0</text>
<text x="397.20" y="402.00" text-anchor="end" style="font-size:8.85px;" fill="#000">822</text>
<text x="466.80" y="402.00" text-anchor="end" style="font-size:8.85px;" fill="#000">847</text>
<text x="536.40" y="402.00" text-anchor="end" style="font-size:8.85px;" fill="#000">29.462</text>
<text x="606.00" y="402.00" text-anchor="end" style="font-size:8.85px;" fill="#000">624</text>
<text x="675.60" y="402.00" text-anchor="end" style="font-size:8.85px;" fill="#000">30.933</text>
<text x="745.20" y="402.00" text-anchor="end" style="font-size:8.85px;" fill="#000">0</text>
<text x="814.80" y="402.00" text-anchor="end" style="font-size:8.85px;" fill="#000">30.933</text>
<text x="884.40" y="402.00" text-anchor="end" style="font-size:8.85px;" fill="#000">0</text>
<text x="954.00" y="402.00" text-anchor="end" style="font-size:8.85px;" fill="#000">244.516</text>
<text x="1023.60" y="402.00" text-anchor="end" style="font-size:8.85px;" fill="#000">463.360</text>
<text x="1093.20" y="402.00" text-anchor="end" style="font-size:8.85px;" fill="#000">24.620</text>
<text x="1162.80" y="402.00" text-anchor="end" style="font-size:8.85px;" fill="#000">487.980</text>
<text x="1232.40" y="402.00" text-anchor="end" style="font-size:8.85px;" fill="#000">134</text>
<text x="12.90" y="414.00" text-anchor="start" style="font-size:8.50px;" fill="#000">Molise</text>
<text x="188.40" y="414.00" text-anchor="end" style="font-size:8.85px;" fill="#000">6</text>
<text x="258.00" y="414.00" text-anchor="end" style="font-size:8.85px;" fill="#000">1</text>
<text x="327.60" y="414.00" text-anchor="end" style="font-size:8.85px;" fill="#000">0</text>
<text x="397.20" y="414.00" text-anchor="end" style="font-size:8.85px;" fill="#000">133</text>
<text x="466.80" y="414.00" text-anchor="end" style="font-size:8.85px;" fill="#000">140</text>
<text x="536.40" y="414.00" text-anchor="end" style="font-size:8.85px;" fill="#000">14.088</text>
<text x="606.00" y="414.00" text-anchor="end" style="font-size:8.85px;" fill="#000">501</text>
<text x="675.60" y="414.00" text-anchor="end" style="font-size:8.85px;" fill="#000">14.729</text>
<text x="745.20" y="414.00" text-anchor="end" style="font-size:8.85px;" fill="#000">0</text>
<text x="814.80" y="414.00" text-anchor="end" style="font-size:8.85px;" fill="#000">14.729</text>
<text x="884.40" y="414.00" text-anchor="end" style="font-size:8.85px;" fill="#000">0</text>
<text x="954.00" y="414.00" text-anchor="end" style="font-size:8.85px;" fill="#000">254.600</text>
<text x="1023.60" y="414.00" text-anchor="end" style="font-size:8.85px;" fill="#000">275.464</text>
<text x="1093.20" y="414.00" text-anchor="end" style="font-size:8.85px;" fill="#000">13.030</text>
<text x="1162.80" y="414.00" text-anchor="end" style="font-size:8.85px;" fill="#000">288.494</text>
<text x="1232.40" y="414.00" text-anchor="end" style="font-size:8.85px;" fill="#000">153</text>
<text x="12.90" y="426.00" text-anchor="start" style="font-size:8.50px;" fill="#000">Valle d'Aosta</text>
<text x="188.40" y="426.00" text-anchor="end" style="font-size:8.85px;" fill="#000">7</text>
<text x="258.00" y="426.00" text-anchor="end" style="font-size:8.85px;" fill="#000">0</text>
<text x="327.60" y="426.00" text-anchor="end" style="font-size:8.85px;" fill="#000">0</text>
<text x="397.20" y="426.00" text-anchor="end" style="font-size:8.85px;" fill="#000">75</text>
<text x="466.80" y="426.00" text-anchor="end" style="font-size:8.85px;" fill="#000">82</text>
<text x="536.40" y="426.00" text-anchor="end" style="font-size:8.85px;" fill="#000">11.798</text>
<text x="606.00" y="426.00" text-anchor="end" style="font-size:8.85px;" fill="#000">474</text>
<text x="675.60" y="426.00" text-anchor="end" style="font-size:8.85px;" fill="#000">11.483</text>
<text x="745.20" y="426.00" text-anchor="end" style="font-size:8.85px;" fill="#000">871</text>
<text x="814.80" y="426.00" text-anchor="end" style="font-size:8.85px;" fill="#000">12.354</text>
<text x="884.40" y="426.00" text-anchor="end" style="font-size:8.85px;" fill="#000">1</text>
<text x="954.00" y="426.00" text-anchor="end" style="font-size:8.85px;" fill="#000">93.526</text>
<text x="1023.60" y="426.00" text-anchor="end" style="font-size:8.85px;" fill="#000">113.360</text>
<text x="1093.20" y="426.00" text-anchor="end" style="font-size:8.85px;" fill="#000">128.521</text>
<text x="1162.80" y="426.00" text-anchor="end" style="font-size:8.85px;" fill="#000">241.881</text>
<text x="1232.40" y="426.00" text-anchor="end" style="font-size:8.85px;" fill="#000">471</text>
<text x="65.65" y="441.40" text-anchor="middle" style="font-size:8.80px;font-weight:bold;" fill="#000" textLength="29.40" lengthAdjust="spacingAndGlyphs">TOTALE</text>
<text x="188.40" y="441.40" text-anchor="end" style="font-size:8.85px;font-weight:bold;" fill="#000">3.362</text>
<text x="258.00" y="441.40" text-anchor="end" style="font-size:8.85px;font-weight:bold;" fill="#000">415</text>
<text x="327.60" y="441.40" text-anchor="end" style="font-size:8.85px;font-weight:bold;" fill="#000">35</text>
<text x="397.20" y="441.40" text-anchor="end" style="font-size:8.85px;font-weight:bold;" fill="#000">94.998</text>
<text x="466.80" y="441.40" text-anchor="end" style="font-size:8.85px;font-weight:bold;" fill="#000">98.775</text>
<text x="536.40" y="441.40" text-anchor="end" style="font-size:8.85px;font-weight:bold;" fill="#000">4.581.396</text>
<text x="606.00" y="441.40" text-anchor="end" style="font-size:8.85px;font-weight:bold;" fill="#000">132.423</text>
<text x="675.60" y="441.40" text-anchor="end" style="font-size:8.85px;font-weight:bold;" fill="#000">4.629.847</text>
<text x="745.20" y="441.40" text-anchor="end" style="font-size:8.85px;font-weight:bold;" fill="#000">182.747</text>
<text x="814.80" y="441.40" text-anchor="end" style="font-size:8.85px;font-weight:bold;" fill="#000">4.812.594</text>
<text x="884.40" y="441.40" text-anchor="end" style="font-size:8.85px;font-weight:bold;" fill="#000">4.197</text>
<text x="954.00" y="441.40" text-anchor="end" style="font-size:8.85px;font-weight:bold;" fill="#000">36.489.224</text>
<text x="1023.60" y="441.40" text-anchor="end" style="font-size:8.85px;font-weight:bold;" fill="#000">64.068.951</text>
<text x="1093.20" y="441.40" text-anchor="end" style="font-size:8.85px;font-weight:bold;" fill="#000">43.519.288</text>
<text x="1162.80" y="441.40" text-anchor="end" style="font-size:8.85px;font-weight:bold;" fill="#000">107.588.239</text>
<text x="1232.40" y="441.40" text-anchor="end" style="font-size:8.85px;font-weight:bold;" fill="#000">249.115</text>
<text x="12.90" y="471.90" text-anchor="start" style="font-size:8.20px;" fill="#000" textLength="20.70" lengthAdjust="spacingAndGlyphs">Note:</text>
<text x="12.90" y="491.00" text-anchor="start" style="font-size:6.80px;" fill="#000" textLength="455.30" lengthAdjust="spacingAndGlyphs">La Regione Abruzzo comunica che sono stati eliminati due casi dei giorni passati in quanto uno già segnalato da altra regione e l'altro non paziente Covid.</text>
<text x="12.90" y="498.60" text-anchor="start" style="font-size:6.80px;" fill="#000" textLength="398.20" lengthAdjust="spacingAndGlyphs">La Regione Campania comunica che a seguito delle verifiche quotidiane, si evince che un decesso registrato oggi risale al 02/11/2021.</text>
<text x="12.90" y="506.50" text-anchor="start" style="font-size:6.80px;" fill="#000" textLength="505.00" lengthAdjust="spacingAndGlyphs">La Regione Friuli Venezia Giulia comunica che il totale dei casi positivi è stato ridotto di 2 a seguito di due test antigenici non confermati dai successivi tamponi molecolari.</text>
<text x="12.90" y="513.70" text-anchor="start" style="font-size:6.80px;" fill="#000" textLength="1045.40" lengthAdjust="spacingAndGlyphs">La Regione Sicilia comunica che in seguito alla verifica sui sistemi informatici da parte dell'ASP di Messina, sul numero complessivo dei tamponi molecolari comunicati in data odierna, n. 3722 sono relativi a periodi precedenti. Sul numero complessivo dei casi confermati comunicati in data odierna, n. 354 sono relativi a periodi precedenti al 05/11/21.</text>
<text x="12.90" y="521.50" text-anchor="start" style="font-size:6.80px;" fill="#000" textLength="661.60" lengthAdjust="spacingAndGlyphs">La Regione Veneto comunica che nel valore &quot;Isolamento dom.&quot; di ieri 07/11/2021 è stato riportato più 6 (12375 anziché 12369) in quanto soggetti positivi che per mero errore materiale sono stati registrati come deceduti.</text>
</svg>
</body></html>
